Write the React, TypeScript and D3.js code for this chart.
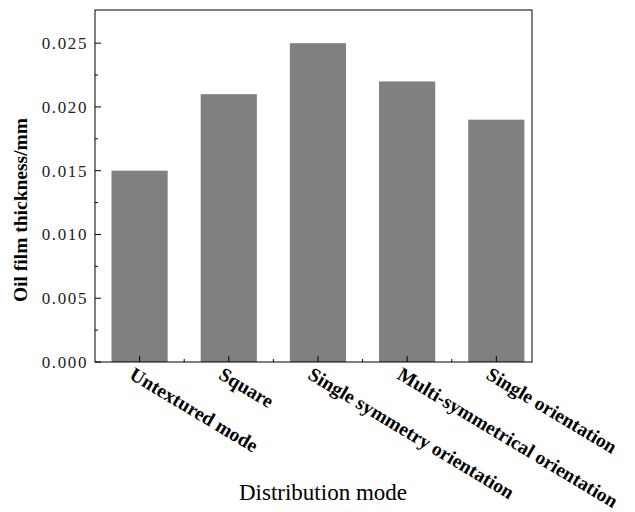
import React from "react";
import * as d3 from "d3";

const categories = [
  "Untextured mode",
  "Square",
  "Single symmetry orientation",
  "Multi-symmetrical orientation",
  "Single orientation",
];
const thickness = [0.015, 0.021, 0.025, 0.022, 0.019];
const yTicks = [0, 0.005, 0.01, 0.015, 0.02, 0.025];
const yMinorTicks = [0.0025, 0.0075, 0.0125, 0.0175, 0.0225];
const xMinorTicks = [1.5, 2.5, 3.5, 4.5];

const W = 635;
const H = 512;
const left = 95;
const right = 532;
const top = 10;
const bottom = 362;

export default function App() {
  const x = d3.scaleLinear().domain([0.5, 5.4]).range([left, right]);
  const y = d3.scaleLinear().domain([0, 0.0276]).range([bottom, top]);
  const barW = x(1.63) - x(1);
  const serif = "Liberation Serif, DejaVu Serif, serif";
  const fmt = d3.format(".3f");
  const angle = 31;

  return (
    <svg
      width={W}
      height={H}
      style={{ position: "absolute", left: 0, top: 0, background: "#fff", fontFamily: serif }}
    >
      {categories.map((c, i) => (
        <rect
          key={c}
          x={x(i + 1) - barW / 2}
          y={y(thickness[i])}
          width={barW}
          height={y(0) - y(thickness[i])}
          fill="#808080"
        />
      ))}
      <rect
        x={left}
        y={top}
        width={right - left}
        height={bottom - top}
        fill="none"
        stroke="#000"
        strokeWidth={1}
      />
      {yTicks.map((t) => (
        <g key={t}>
          <line x1={left} x2={left + 6} y1={y(t)} y2={y(t)} stroke="#000" />
          <text
            x={88}
            y={y(t)}
            dy="0.35em"
            textAnchor="end"
            fontSize={17}
            letterSpacing={1.6}
            fill="#222"
            style={{ fontFamily: serif }}
          >
            {fmt(t)}
          </text>
        </g>
      ))}
      {yMinorTicks.map((t) => (
        <line key={t} x1={left} x2={left + 3} y1={y(t)} y2={y(t)} stroke="#000" />
      ))}
      {categories.map((c, i) => (
        <g key={c}>
          <line x1={x(i + 1)} x2={x(i + 1)} y1={bottom} y2={bottom - 6} stroke="#000" />
          <text
            transform={`translate(${x(i + 1) - 4},${bottom + 4}) rotate(${angle})`}
            fontSize={19.5}
            fontWeight="bold"
            dy="0.72em"
            textAnchor="start"
            fill="#000"
            style={{ fontFamily: serif }}
          >
            {c}
          </text>
        </g>
      ))}
      {xMinorTicks.map((t) => (
        <line key={t} x1={x(t)} x2={x(t)} y1={bottom} y2={bottom - 3} stroke="#000" />
      ))}
      <text
        transform={`translate(27,210) rotate(-90)`}
        textAnchor="middle"
        fontSize={19.5}
        fontWeight="bold"
        fill="#000"
        style={{ fontFamily: serif }}
      >
        Oil film thickness/mm
      </text>
      <text
        x={323}
        y={500}
        textAnchor="middle"
        fontSize={23}
        fill="#000"
        style={{ fontFamily: serif }}
      >
        Distribution mode
      </text>
    </svg>
  );
}
